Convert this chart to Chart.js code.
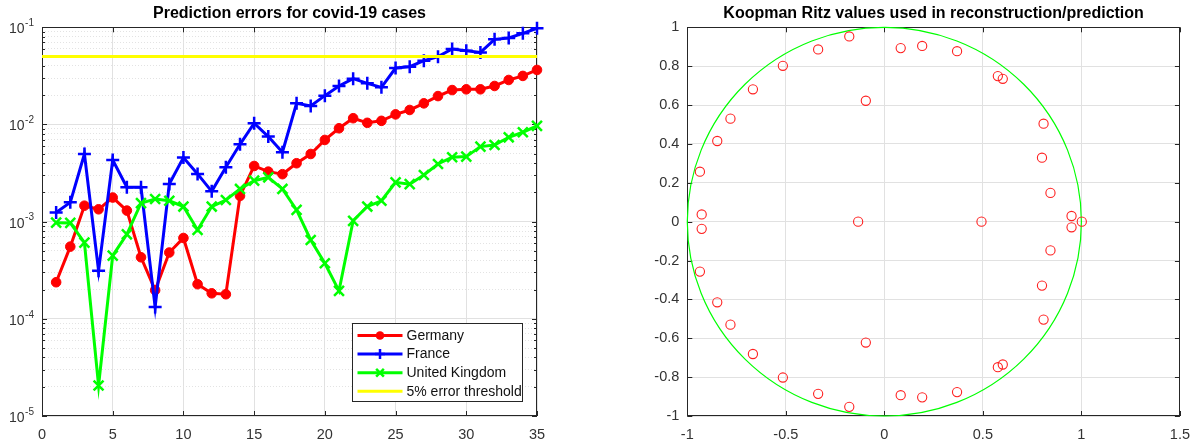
<!DOCTYPE html>
<html>
<head>
<meta charset="utf-8">
<script src="https://cdn.jsdelivr.net/npm/chart.js@4.4.0/dist/chart.umd.min.js"></script>
<style>
  html, body { margin: 0; padding: 0; background: #fff; }
  #wrap { position: relative; width: 1200px; height: 446px; }
  .pane { position: absolute; top: 0; width: 600px; height: 446px; }
</style>
</head>
<body>
<div id="wrap">
  <div class="pane" style="left:0"><canvas id="errChart"></canvas></div>
  <div class="pane" style="left:600px"><canvas id="ritzChart"></canvas></div>
</div>
<script>
// ---- data: prediction errors ----
const days = [1,2,3,4,5,6,7,8,9,10,11,12,13,14,15,16,17,18,19,20,21,22,23,24,25,26,27,28,29,30,31,32,33,34,35];
const germany = [2.38e-4,5.53e-4,1.46e-3,1.34e-3,1.77e-3,1.30e-3,4.30e-4,1.97e-4,4.81e-4,6.79e-4,2.27e-4,1.83e-4,1.79e-4,1.84e-3,3.74e-3,3.27e-3,3.08e-3,3.99e-3,4.97e-3,6.93e-3,9.14e-3,1.16e-2,1.04e-2,1.09e-2,1.27e-2,1.41e-2,1.65e-2,1.96e-2,2.26e-2,2.30e-2,2.30e-2,2.49e-2,2.87e-2,3.16e-2,3.64e-2];
const france = [1.24e-3,1.58e-3,4.97e-3,3.13e-4,4.31e-3,2.26e-3,2.26e-3,1.32e-4,2.44e-3,4.56e-3,3.10e-3,2.05e-3,3.63e-3,6.25e-3,1.03e-2,7.50e-3,5.18e-3,1.65e-2,1.55e-2,1.98e-2,2.49e-2,2.96e-2,2.65e-2,2.41e-2,3.81e-2,3.93e-2,4.53e-2,4.99e-2,5.98e-2,5.75e-2,5.52e-2,7.52e-2,7.76e-2,8.67e-2,9.77e-2];
const uk = [9.77e-4,9.70e-4,6.08e-4,2.06e-5,4.47e-4,7.41e-4,1.55e-3,1.71e-3,1.64e-3,1.43e-3,8.22e-4,1.43e-3,1.67e-3,2.17e-3,2.64e-3,2.86e-3,2.17e-3,1.32e-3,6.48e-4,3.73e-4,1.94e-4,1.02e-3,1.43e-3,1.64e-3,2.54e-3,2.43e-3,3.02e-3,3.92e-3,4.60e-3,4.67e-3,5.92e-3,6.15e-3,7.38e-3,8.32e-3,9.66e-3];
const thresholdX = [0, 35];
const thresholdY = [0.05, 0.05];

// log axis ticks
const decades = [1e-5, 1e-4, 1e-3, 1e-2, 1e-1];
const decadeExp = ['-5', '-4', '-3', '-2', '-1'];
const minorMult = [2,3,4,5,6,7,8,9];

// ---- data: Koopman Ritz values ----
const ritzRe = [-0.927,-0.927,-0.936,-0.936,-0.848,-0.848,-0.781,-0.781,-0.667,-0.667,-0.515,-0.515,-0.336,-0.336,-0.178,-0.178,-0.094,-0.094,-0.133,0.083,0.083,0.192,0.192,0.369,0.369,0.576,0.576,0.601,0.601,0.808,0.808,0.800,0.800,0.843,0.843,0.950,0.950,0.493,1.002];
const ritzIm = [0.037,-0.037,0.257,-0.257,0.415,-0.415,0.530,-0.530,0.681,-0.681,0.802,-0.802,0.886,-0.886,0.953,-0.953,0.622,-0.622,0,0.893,-0.893,0.904,-0.904,0.877,-0.877,0.749,-0.749,0.735,-0.735,0.504,-0.504,0.329,-0.329,0.148,-0.148,0.029,-0.029,0,0];
const circleRadius = 1;

const FONT = '"Liberation Sans", Arial, Helvetica, sans-serif';
const axisColor = '#262626';
const gridColor = '#e1e1e1';
const minorColor = '#e3e3e3';

Chart.defaults.font.family = FONT;
Chart.defaults.font.size = 14.5;
Chart.defaults.color = '#333';
Chart.defaults.animation = false;

const minorTicks = [];
decades.slice(0, -1).forEach(d => minorMult.forEach(m => minorTicks.push(d * m)));

//box round the axes with inward ticks, like matlab
const axesBox = {
	id: 'axesBox',
	beforeDatasetsDraw(chart, args, opts) {
		const { ctx, chartArea: a, scales } = chart;
		ctx.save();
		ctx.strokeStyle = axisColor;
		ctx.lineWidth = 1;
		ctx.strokeRect(Math.round(a.left) + 0.5, Math.round(a.top) + 0.5, Math.round(a.width) - 1, Math.round(a.height) - 1);
		function seg(x1, y1, x2, y2) {
			ctx.beginPath(); ctx.moveTo(x1, y1); ctx.lineTo(x2, y2); ctx.stroke();
		}
		scales.x.ticks.forEach(t => {
			const px = Math.round(scales.x.getPixelForValue(t.value)) + 0.5;
			seg(px, a.bottom, px, a.bottom - 5);
			seg(px, a.top, px, a.top + 5);
		});
		scales.y.ticks.forEach(t => {
			if (t.major === false) return;
			const py = Math.round(scales.y.getPixelForValue(t.value)) + 0.5;
			seg(a.left, py, a.left + 5, py);
			seg(a.right, py, a.right - 5, py);
		});
		(opts.minor || []).forEach(v => {
			const py = Math.round(scales.y.getPixelForValue(v)) + 0.5;
			seg(a.left, py, a.left + 3, py);
			seg(a.right, py, a.right - 3, py);
		});
		ctx.restore();
	}
};

//10^n labels for the log axis
const logLabels = {
	id: 'logLabels',
	afterDraw(chart) {
		const s = chart.scales.y;
		if (s.type !== 'logarithmic') return;
		const ctx = chart.ctx;
		ctx.save();
		ctx.fillStyle = '#333';
		ctx.textAlign = 'right';
		ctx.textBaseline = 'middle';
		const right = chart.chartArea.left - 8;
		decades.forEach((v, i) => {
			const py = s.getPixelForValue(v);
			ctx.font = '10px ' + FONT;
			const sw = ctx.measureText(decadeExp[i]).width;
			ctx.fillText(decadeExp[i], right, py - 4);
			ctx.font = '14px ' + FONT;
			ctx.fillText('10', right - sw - 0.5, py + 2);
		});
		ctx.restore();
	}
};

//legend box in the lower right corner
const boxLegend = {
	id: 'boxLegend',
	afterDraw(chart, args, opts) {
		if (!opts.items) return;
		const { ctx, chartArea: a } = chart;
		const w = 170, rowH = 18.6, h = 78;
		const left = Math.round(a.right - 15 - w) + 0.5;
		const top = Math.round(a.bottom - 15 - h) + 0.5;
		ctx.save();
		ctx.fillStyle = '#fff';
		ctx.fillRect(left, top, w, h);
		ctx.strokeStyle = axisColor;
		ctx.lineWidth = 1;
		ctx.strokeRect(left, top, w, h);
		ctx.font = '14px ' + FONT;
		ctx.textBaseline = 'middle';
		opts.items.forEach((it, i) => {
			const y = top + 12 + i * rowH;
			ctx.strokeStyle = it.color;
			ctx.fillStyle = it.color;
			ctx.lineWidth = 3;
			ctx.beginPath(); ctx.moveTo(left + 5, y); ctx.lineTo(left + 50, y); ctx.stroke();
			const mx = left + 27.5, r = it.r;
			ctx.lineWidth = 2.5;
			if (it.marker === 'circle') {
				ctx.beginPath(); ctx.arc(mx, y, r, 0, Math.PI * 2); ctx.fill();
			} else if (it.marker === 'cross') {
				ctx.beginPath(); ctx.moveTo(mx - r, y); ctx.lineTo(mx + r, y);
				ctx.moveTo(mx, y - r); ctx.lineTo(mx, y + r); ctx.stroke();
			} else if (it.marker === 'crossRot') {
				const d = r * 0.7;
				ctx.beginPath(); ctx.moveTo(mx - d, y - d); ctx.lineTo(mx + d, y + d);
				ctx.moveTo(mx - d, y + d); ctx.lineTo(mx + d, y - d); ctx.stroke();
			}
			ctx.fillStyle = '#111';
			ctx.fillText(it.label, left + 54, y + 0.5);
		});
		ctx.restore();
	}
};

//unit circle drawn from the scales
const unitCircle = {
	id: 'unitCircle',
	beforeDatasetsDraw(chart) {
		const { ctx, scales: { x, y } } = chart;
		const cx = x.getPixelForValue(0), cy = y.getPixelForValue(0);
		const rx = x.getPixelForValue(circleRadius) - cx;
		const ry = cy - y.getPixelForValue(circleRadius);
		ctx.save();
		ctx.strokeStyle = '#00ff00';
		ctx.lineWidth = 1.2;
		ctx.beginPath();
		ctx.ellipse(cx, cy, rx, ry, 0, 0, Math.PI * 2);
		ctx.stroke();
		ctx.restore();
	}
};

function pts(xs, ys) {
	return xs.map((v, i) => ({ x: v, y: ys[i] }));
}

//matlab style numbers: 1, 0.5, -0.2
function plainNum(v) {
	const n = Math.round(v * 100) / 100;
	return String(n === 0 ? 0 : n);
}

const titleFont = { size: 16, weight: 'bold', family: FONT };
const titlePad = { top: 4, bottom: 4.1 };

// ---- left chart ----
new Chart(document.getElementById('errChart'), {
	type: 'scatter',
	data: {
		datasets: [{
			label: 'Germany', data: pts(days, germany), showLine: true,
			borderColor: '#ff0000', backgroundColor: '#ff0000', borderWidth: 3,
			pointStyle: 'circle', pointRadius: 4.8, pointBorderWidth: 1, order: 3, clip: false
		}, {
			label: 'France', data: pts(days, france), showLine: true,
			borderColor: '#0000ff', backgroundColor: '#0000ff', borderWidth: 3,
			pointStyle: 'cross', pointRadius: 6.5, pointBorderWidth: 2.5, order: 2, clip: false
		}, {
			label: 'United Kingdom', data: pts(days, uk), showLine: true,
			borderColor: '#00ff00', backgroundColor: '#00ff00', borderWidth: 3,
			pointStyle: 'crossRot', pointRadius: 7, pointBorderWidth: 2.5, order: 1, clip: false
		}, {
			label: '5% error threshold', data: pts(thresholdX, thresholdY), showLine: true,
			borderColor: '#ffff00', backgroundColor: '#ffff00', borderWidth: 3,
			pointRadius: 0, order: 0, clip: false
		}]
	},
	options: {
		responsive: true,
		maintainAspectRatio: false,
		events: [],
		layout: { padding: { left: 0, right: 63, top: 0, bottom: 0 } },
		plugins: {
			legend: { display: false },
			tooltip: { enabled: false },
			title: {
				display: true, text: 'Prediction errors for covid-19 cases', color: '#000',
				font: titleFont, padding: titlePad, fullSize: false
			},
			axesBox: { minor: minorTicks },
			boxLegend: {
				items: [
					{ label: 'Germany', color: '#ff0000', marker: 'circle', r: 4.3 },
					{ label: 'France', color: '#0000ff', marker: 'cross', r: 5 },
					{ label: 'United Kingdom', color: '#00ff00', marker: 'crossRot', r: 5.5 },
					{ label: '5% error threshold', color: '#ffff00', marker: 'none', r: 0 }
				]
			}
		},
		scales: {
			x: {
				type: 'linear', min: 0, max: 35,
				ticks: { stepSize: 5, padding: 10, maxRotation: 0 },
				grid: { color: gridColor, drawTicks: false },
				border: { display: false },
				afterFit: s => { s.height = 30; }
			},
			y: {
				type: 'logarithmic', min: 1e-5, max: 1e-1,
				afterBuildTicks: s => {
					const all = decades.map(v => ({ value: v, major: true }))
						.concat(minorTicks.map(v => ({ value: v, major: false })));
					s.ticks = all.sort((p, q) => p.value - q.value);
				},
				afterFit: s => { s.width = 42; },
				ticks: { display: false },
				grid: {
					drawTicks: false,
					color: c => (c.tick && c.tick.major) ? gridColor : minorColor
				},
				border: {
					display: false,
					dash: c => (c.tick && !c.tick.major) ? [1, 2] : []
				}
			}
		}
	},
	plugins: [axesBox, logLabels, boxLegend]
});

// ---- right chart ----
new Chart(document.getElementById('ritzChart'), {
	type: 'scatter',
	data: {
		datasets: [{
			label: 'Ritz values', data: pts(ritzRe, ritzIm),
			borderColor: '#ff2020', backgroundColor: 'rgba(0,0,0,0)',
			pointStyle: 'circle', pointRadius: 4.6, pointBorderWidth: 1.1, clip: false
		}]
	},
	options: {
		responsive: true,
		maintainAspectRatio: false,
		events: [],
		layout: { padding: { left: 0, right: 17.7, top: 0, bottom: 0 } },
		plugins: {
			legend: { display: false },
			tooltip: { enabled: false },
			title: {
				display: true, text: 'Koopman Ritz values used in reconstruction/prediction', color: '#000',
				font: titleFont, padding: titlePad, fullSize: false
			},
			axesBox: {}
		},
		scales: {
			x: {
				type: 'linear', min: -1, max: 1.5,
				ticks: { stepSize: 0.5, padding: 10, maxRotation: 0, callback: plainNum },
				grid: { color: gridColor, drawTicks: false },
				border: { display: false },
				afterFit: s => { s.height = 30; }
			},
			y: {
				type: 'linear', min: -1, max: 1,
				ticks: { stepSize: 0.2, padding: 8, callback: plainNum },
				grid: { color: gridColor, drawTicks: false },
				border: { display: false },
				afterFit: s => { s.width = 87.3; }
			}
		}
	},
	plugins: [axesBox, unitCircle]
});
</script>
</body>
</html>
